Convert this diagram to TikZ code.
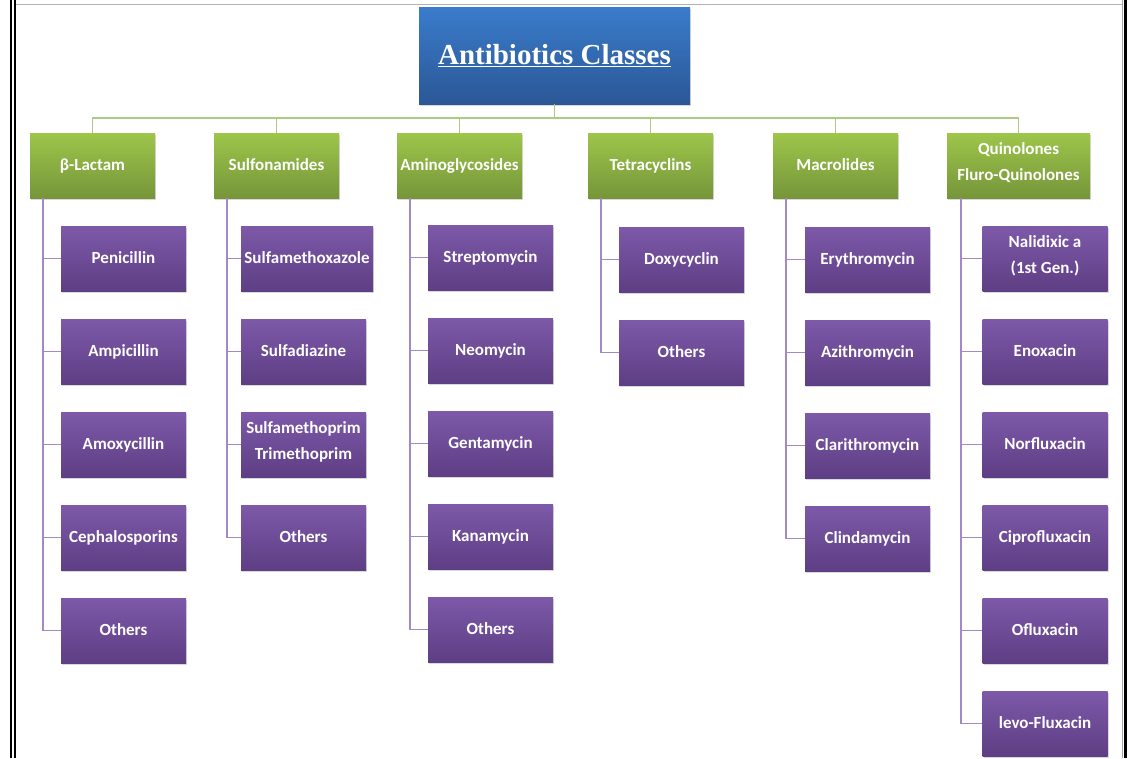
\documentclass[tikz,border=0pt]{standalone}
\usepackage{fontspec}
\setmainfont{Carlito}
\newfontfamily\titlefont{Liberation Serif}
\usetikzlibrary{shadows}
\definecolor{gtop}{HTML}{9DC64A}
\definecolor{gbot}{HTML}{76953A}
\definecolor{ptop}{HTML}{7D59A9}
\definecolor{pbot}{HTML}{5E3E84}
\definecolor{btop}{HTML}{3A7CCB}
\definecolor{bbot}{HTML}{2B5796}
\definecolor{glinec}{HTML}{ADCB80}
\definecolor{plinec}{HTML}{A18AC6}
\tikzset{
 box/.style={rectangle, inner sep=0pt, text=white, align=center,
   font=\fontsize{17}{26}\selectfont\bfseries,
   execute at begin node=\strut,
   drop shadow={shadow xshift=1pt, shadow yshift=-2pt, opacity=0.3}},
 classbox/.style={box, top color=gtop, bottom color=gbot, minimum width=125pt, minimum height=65pt},
 drugbox/.style={box, top color=ptop, bottom color=pbot, minimum width=125pt, minimum height=65pt},
 titlebox/.style={rectangle, inner sep=0pt, top color=btop, bottom color=bbot,
   minimum width=271pt, minimum height=97pt, text=white,
   font=\titlefont\bfseries\fontsize{29}{34}\selectfont,
   drop shadow={shadow xshift=1pt, shadow yshift=-2pt, opacity=0.3}},
 gconn/.style={draw=glinec, line width=1.5pt},
 pconn/.style={draw=plinec, line width=1.5pt},
}
\begin{document}
\begin{tikzpicture}[x=1pt,y=-1pt]
\useasboundingbox[fill=white] (0,0) rectangle (1127,758);
% page borders
\draw[black, line width=2pt] (11,0) -- (11,758);
\draw[black, line width=2pt] (15,0) -- (15,758);
\draw[gray!70, line width=1pt] (1122.5,0) -- (1122.5,758);
\draw[black, line width=3pt] (1125.5,0) -- (1125.5,758);
\draw[gray!60, line width=1pt] (16,4) -- (1122,4);

% title
\node[titlebox] (title) at (554.5,55.5) {\underline{Antibiotics Classes}};

% classes
\node[classbox] (bl) at (92.5,165.5) {β-Lactam};
\node[classbox] (su) at (276.5,165.5) {Sulfonamides};
\node[classbox] (am) at (459.5,165.5) {Aminoglycosides};
\node[classbox] (te) at (650.5,165.5) {Tetracyclins};
\node[classbox] (ma) at (835.5,165.5) {Macrolides};
\node[classbox, minimum width=143pt] (qu) at (1018.5,165.5) {Quinolones\\Fluro-Quinolones\strut};

\foreach \n in {bl,su,am,te,ma,qu}
  \draw[gconn] (title.south) -- ++(0,14) -| (\n.north);

% beta-lactam
\node[drugbox] (bl1) at (123.5,258.5) {Penicillin};
\node[drugbox] (bl2) at (123.5,351.5) {Ampicillin};
\node[drugbox] (bl3) at (123.5,444.5) {Amoxycillin};
\node[drugbox] (bl4) at (123.5,537.5) {Cephalosporins};
\node[drugbox] (bl5) at (123.5,630.5) {Others};
% sulfonamides
\node[drugbox, minimum width=132pt] (su1) at (307,258.5) {Sulfamethoxazole};
\node[drugbox] (su2) at (303.5,351.5) {Sulfadiazine};
\node[drugbox] (su3) at (303.5,444.5) {Sulfamethoprim\\Trimethoprim\strut};
\node[drugbox] (su4) at (303.5,537.5) {Others};
% aminoglycosides
\node[drugbox] (am1) at (490.5,257.5) {Streptomycin};
\node[drugbox] (am2) at (490.5,350.5) {Neomycin};
\node[drugbox] (am3) at (490.5,443.5) {Gentamycin};
\node[drugbox] (am4) at (490.5,536.5) {Kanamycin};
\node[drugbox] (am5) at (490.5,629.5) {Others};
% tetracyclins
\node[drugbox] (te1) at (681.5,259.5) {Doxycyclin};
\node[drugbox] (te2) at (681.5,352.5) {Others};
% macrolides
\node[drugbox] (ma1) at (867.5,259.5) {Erythromycin};
\node[drugbox] (ma2) at (867.5,352.5) {Azithromycin};
\node[drugbox] (ma3) at (867.5,445.5) {Clarithromycin};
\node[drugbox] (ma4) at (867.5,538.5) {Clindamycin};
% quinolones
\node[drugbox] (qu1) at (1045,258.5) {Nalidixic a\\(1st Gen.)\strut};
\node[drugbox] (qu2) at (1045,351.5) {Enoxacin};
\node[drugbox] (qu3) at (1045,444.5) {Norfluxacin};
\node[drugbox] (qu4) at (1045,537.5) {Ciprofluxacin};
\node[drugbox] (qu5) at (1045,630.5) {Ofluxacin};
\node[drugbox] (qu6) at (1045,723.5) {levo-Fluxacin};

% branch connectors
\foreach \c in {1,...,5} \draw[pconn] ([xshift=13pt]bl.south west) |- (bl\c.west);
\foreach \c in {1,...,4} \draw[pconn] ([xshift=13pt]su.south west) |- (su\c.west);
\foreach \c in {1,...,5} \draw[pconn] ([xshift=13pt]am.south west) |- (am\c.west);
\foreach \c in {1,2} \draw[pconn] ([xshift=13pt]te.south west) |- (te\c.west);
\foreach \c in {1,...,4} \draw[pconn] ([xshift=13pt]ma.south west) |- (ma\c.west);
\foreach \c in {1,...,6} \draw[pconn] ([xshift=14pt]qu.south west) |- (qu\c.west);
\end{tikzpicture}
\end{document}
